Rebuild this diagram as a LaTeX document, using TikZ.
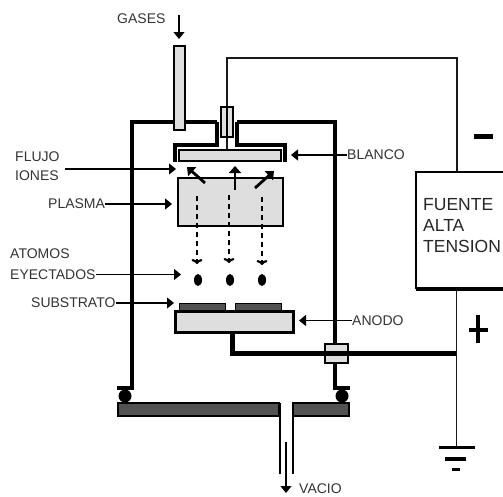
\documentclass[tikz,border=0pt]{standalone}
\usepackage{fontspec}
\setmainfont{Liberation Sans}
\usetikzlibrary{arrows.meta,shapes.geometric}

\begin{document}
\begin{tikzpicture}[
  x=1pt, y=-1pt,
  lab_text/.style={inner sep=0pt, text=black!80, font=\fontsize{14}{14}\selectfont},
  big_text/.style={inner sep=0pt, text=black!85, align=left, font=\fontsize{17.5}{21}\selectfont},
  gray_box/.style={rectangle, draw, line width=2pt, fill=black!13, inner sep=0pt},
  dark_box/.style={rectangle, draw, line width=1.5pt, fill=black!68, inner sep=0pt},
  wall/.style={line width=4pt},
  holder/.style={line width=3.2pt},
  thin_wire/.style={line width=2pt, black!90},
  lab_arrow/.style={line width=1.1pt, -{Triangle[length=7pt, width=11pt]}},
  ion_arrow/.style={line width=2.8pt, -{Triangle[length=7pt, width=12pt]}},
  atom_arrow/.style={line width=2.2pt, dash pattern=on 5pt off 4pt, -{To[length=5pt, width=11pt]}},
  atom_dot/.style={ellipse, fill, minimum width=8pt, minimum height=12pt, inner sep=0pt},
  seal_dot/.style={circle, fill, minimum size=13pt, inner sep=0pt},
]
\useasboundingbox (0,0) rectangle (503,496);
% camara
\draw[wall, line join=miter] (117,388) -- (132,388) -- (132,122) -- (217,122);
\draw[wall, line join=miter] (237,122) -- (335,122) -- (335,388) -- (350,388);
\draw (125,396) node (seal_l) [seal_dot] {};
\draw (342,396) node (seal_r) [seal_dot] {};
\draw (198.5,409.5) node (plate_l) [dark_box, minimum width=161pt, minimum height=13pt] {};
\draw (321,409.5) node (plate_r) [dark_box, minimum width=56pt, minimum height=13pt] {};
\draw[line width=2.6pt] (280,403) -- (280,474);
\draw[line width=2.6pt] (293,403) -- (293,474);
% blanco
\draw[holder] (175,162) |- (217,145) -- (217,122);
\draw[holder] (285,162) |- (237,145) -- (237,122);
\draw (230,155.5) node (target) [gray_box, minimum width=102pt, minimum height=11pt] {};
\coordinate (stem_bot) at (227,150);
\coordinate (neg_corner) at (456.5,58);
\coordinate (neg_in) at (456.5,172);
\draw[thin_wire] (stem_bot) |- (neg_corner) -- (neg_in);
\draw (227,122) node (insulator) [gray_box, line width=1.5pt, minimum width=12pt, minimum height=30pt] {};
\draw[line width=1.2pt] (insulator.north) -- (insulator.south);
\draw (179.5,88) node (gas_tube) [gray_box, line width=1.5pt, minimum width=11pt, minimum height=84pt] {};
% plasma
\draw (230.5,202) node (plasma) [gray_box, minimum width=105pt, minimum height=48pt] {};
\draw[ion_arrow] (205,183) -- (187,167);
\draw[ion_arrow] (235,190) -- (235,166);
\draw[ion_arrow] (255,188) -- (274,171);
\draw (198,280) node (atom_a) [atom_dot] {};
\draw (230,280) node (atom_b) [atom_dot] {};
\draw (262,280) node (atom_c) [atom_dot] {};
\draw[atom_arrow] (197,196) -- (197,264);
\draw[atom_arrow] (229,195) -- (229,263);
\draw[atom_arrow] (262,197) -- (262,265);
% anodo
\draw (202,306.5) node (sub_l) [dark_box, line width=1pt, minimum width=46pt, minimum height=7pt] {};
\draw (258,306.5) node (sub_r) [dark_box, line width=1pt, minimum width=46pt, minimum height=7pt] {};
\draw (234,321.5) node (anode) [gray_box, line width=3pt, minimum width=118pt, minimum height=21pt] {};
\coordinate (anode_out) at (232,333);
\coordinate (pos_in) at (456.5,353.5);
\draw (336.5,353.5) node (feed) [gray_box, line width=1.5pt, minimum width=23pt, minimum height=19pt] {};
\draw[line width=5pt, line join=miter] (anode_out) |- (pos_in);
% fuente
\draw[line width=2pt] (505,172) -- (416,172) -- (416,289);
\draw[line width=3.6pt] (416,289) -- (505,289);
\draw (423,226) node (psu) [big_text, right] {FUENTE\\ALTA\\TENSION};
\coordinate (psu_out) at (456.5,289);
\coordinate (gnd) at (456.5,447);
\draw[thin_wire, line width=1.5pt] (psu_out) -- (gnd);
\draw[line width=3pt] (439,447) -- (475,447);
\draw[line width=4pt] (445,459) -- (466,459);
\draw[line width=3pt] (452,469) -- (460,469);
\draw[line width=5pt] (474,136) -- (493,136);
\draw[line width=4.5pt] (469,330) -- (488,330);
\draw[line width=4.5pt] (478,315) -- (478,343);
% rotulos
\draw (117,19) node (gases) [lab_text, right] {GASES};
\draw (299,488.5) node (vacio) [lab_text, right] {VACIO};
\draw (15,157) node (flujo) [lab_text, right] {FLUJO};
\draw (15,176) node (iones) [lab_text, right] {IONES};
\draw (48,204) node (plasma_lab) [lab_text, right] {PLASMA};
\draw (10,254) node (atomos) [lab_text, right] {ATOMOS};
\draw (10,274.5) node (eyectados) [lab_text, right] {EYECTADOS};
\draw (31,303) node (substrato) [lab_text, right] {SUBSTRATO};
\draw (347,155) node (blanco) [lab_text, right] {BLANCO};
\draw (352,320.5) node (anodo) [lab_text, right] {ANODO};
\coordinate (gases_from) at (179,15);
\coordinate (gases_to) at (179,39);
\coordinate (vacio_from) at (286,442);
\coordinate (vacio_to) at (286,493);
\coordinate (flujo_from) at (65,169);
\coordinate (flujo_to) at (176,169);
\coordinate (plasma_to) at (172,204);
\coordinate (atomos_to) at (181,274.5);
\coordinate (sub_to) at (174,303);
\coordinate (blanco_to) at (291,155);
\coordinate (anodo_to) at (299,320.5);
\draw[lab_arrow] (gases_from) -- (gases_to);
\draw[lab_arrow] (vacio_from) -- (vacio_to);
\draw[lab_arrow] (flujo_from) -- (flujo_to);
\draw[lab_arrow] (plasma_lab.east) -- (plasma_to);
\draw[lab_arrow] (eyectados.east) -- (atomos_to);
\draw[lab_arrow] (substrato.east) -- (sub_to);
\draw[lab_arrow] (blanco.west) -- (blanco_to);
\draw[lab_arrow] (anodo.west) -- (anodo_to);
\end{tikzpicture}
\end{document}
